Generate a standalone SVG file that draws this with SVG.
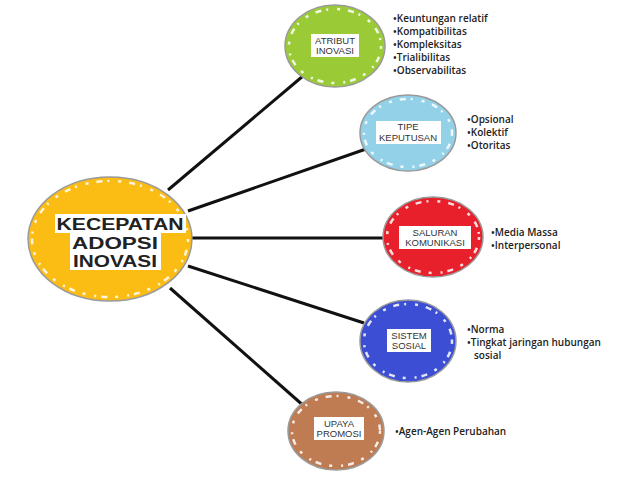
<svg xmlns="http://www.w3.org/2000/svg" width="638" height="479" viewBox="0 0 638 479">
<style>
.ring{stroke:#9a9a9a;stroke-width:1.5}
.jag{fill:none;stroke:#ffffff;stroke-width:2.5;stroke-dasharray:3 8 6 5 2 9;opacity:0.85}
.lbl{font-family:"Liberation Sans",Arial,sans-serif;font-size:9.5px;fill:#333;text-anchor:middle}
.big{font-family:"Liberation Sans",Arial,sans-serif;font-size:17px;font-weight:bold;fill:#222;text-anchor:middle}
.bul{font-family:"Open Sans","Liberation Sans",sans-serif;font-size:10px;font-weight:600;fill:#222}
.box{fill:#ffffff}
.con{stroke:#111;stroke-width:3;fill:none}
</style>
<rect width="638" height="479" fill="#ffffff"/>
<g id="connectors">
<line class="con" x1="168" y1="190" x2="303" y2="76"/>
<line class="con" x1="188" y1="211" x2="366" y2="149"/>
<line class="con" x1="192" y1="238" x2="385" y2="238"/>
<line class="con" x1="188" y1="266" x2="364" y2="323"/>
<line class="con" x1="170" y1="288" x2="305" y2="407"/>
</g>
<g id="central">
<ellipse class="ring" cx="110" cy="239" rx="82" ry="62" fill="#fbbd14"/>
<ellipse class="jag" cx="110" cy="239" rx="78" ry="58"/>
<rect class="box" x="55" y="214" width="131" height="19"/>
<rect class="box" x="70" y="232" width="91" height="38"/>
<text class="big" x="120" y="230" textLength="127" lengthAdjust="spacingAndGlyphs">KECEPATAN</text>
<text class="big" x="115" y="249" textLength="86" lengthAdjust="spacingAndGlyphs">ADOPSI</text>
<text class="big" x="115" y="267" textLength="84" lengthAdjust="spacingAndGlyphs">INOVASI</text>
</g>
<g id="atribut">
<ellipse class="ring" cx="335" cy="46" rx="50" ry="41" fill="#9acb36"/>
<ellipse class="jag" cx="335" cy="46" rx="46" ry="37"/>
<rect class="box" x="311" y="34" width="48" height="23"/>
<text class="lbl" x="335" y="44">ATRIBUT</text>
<text class="lbl" x="335" y="54">INOVASI</text>
<text class="bul" x="393" y="22">•Keuntungan relatif</text>
<text class="bul" x="393" y="35">•Kompatibilitas</text>
<text class="bul" x="393" y="48">•Kompleksitas</text>
<text class="bul" x="393" y="61">•Trialibilitas</text>
<text class="bul" x="393" y="74">•Observabilitas</text>
</g>
<g id="tipe">
<ellipse class="ring" cx="408" cy="133" rx="48" ry="38" fill="#92d1e7"/>
<ellipse class="jag" cx="408" cy="133" rx="44" ry="34"/>
<rect class="box" x="376" y="121" width="65" height="23"/>
<text class="lbl" x="408" y="130">TIPE</text>
<text class="lbl" x="408" y="141">KEPUTUSAN</text>
<text class="bul" x="467" y="123">•Opsional</text>
<text class="bul" x="467" y="136">•Kolektif</text>
<text class="bul" x="467" y="149">•Otoritas</text>
</g>
<g id="saluran">
<ellipse class="ring" cx="433" cy="237" rx="50" ry="40" fill="#e8202b"/>
<ellipse class="jag" cx="433" cy="237" rx="46" ry="36"/>
<rect class="box" x="399" y="226" width="72" height="23"/>
<text class="lbl" x="435" y="236">SALURAN</text>
<text class="lbl" x="435" y="246">KOMUNIKASI</text>
<text class="bul" x="491" y="236">•Media Massa</text>
<text class="bul" x="491" y="249">•Interpersonal</text>
</g>
<g id="sistem">
<ellipse class="ring" cx="408" cy="341" rx="48" ry="41" fill="#3c4ed3"/>
<ellipse class="jag" cx="408" cy="341" rx="44" ry="37"/>
<rect class="box" x="387" y="329" width="44" height="23"/>
<text class="lbl" x="409" y="339">SISTEM</text>
<text class="lbl" x="409" y="349">SOSIAL</text>
<text class="bul" x="467" y="333">•Norma</text>
<text class="bul" x="467" y="346">•Tingkat jaringan hubungan</text>
<text class="bul" x="474" y="359">sosial</text>
</g>
<g id="upaya">
<ellipse class="ring" cx="336" cy="431" rx="48" ry="39" fill="#bf7b52"/>
<ellipse class="jag" cx="336" cy="431" rx="44" ry="35"/>
<rect class="box" x="314" y="417" width="50" height="23"/>
<text class="lbl" x="339" y="427">UPAYA</text>
<text class="lbl" x="339" y="437">PROMOSI</text>
<text class="bul" x="395" y="435">•Agen-Agen Perubahan</text>
</g>
</svg>
